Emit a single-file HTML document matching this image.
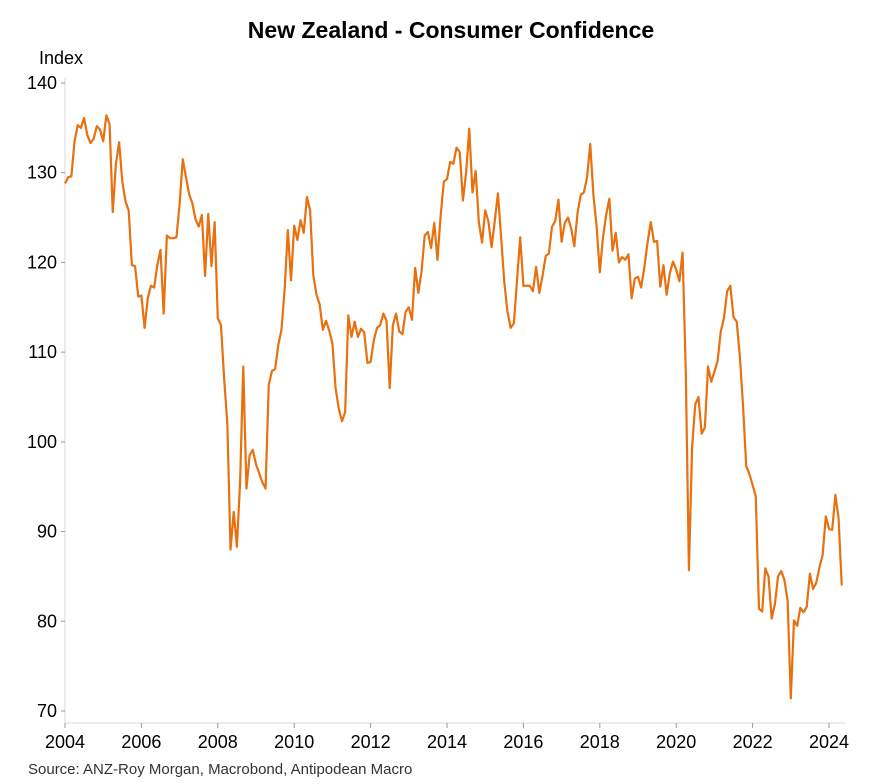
<!DOCTYPE html>
<html><head><meta charset="utf-8">
<style>
body{margin:0;background:#fff;}
svg{display:block;font-family:"Liberation Sans",Arial,sans-serif;}
</style></head>
<body>
<svg id="chart" width="871" height="784">
<text x="451" y="38" text-anchor="middle" font-size="23" font-weight="bold" fill="#000">New Zealand - Consumer Confidence</text>
<text x="39" y="64" font-size="18" fill="#000">Index</text>
<text x="28" y="774" font-size="15" fill="#333">Source: ANZ-Roy Morgan, Macrobond, Antipodean Macro</text>
<g id="axes"></g>
<path id="line" fill="none" stroke="#E8700F" stroke-width="2.2" stroke-linejoin="round"></path>
</svg>
<script>
const yTicks = [70,80,90,100,110,120,130,140];
const xTickYears = [2004,2006,2008,2010,2012,2014,2016,2018,2020,2022,2024];
const startYear = 2004;
const v2004 = [128.8,129.5,129.6,133.5,135.3,135,136.1,134.2,133.3,133.8,135.2,134.8];
const v2005 = [133.5,136.4,135.4,125.6,131,133.4,129,126.8,125.8,119.7,119.6,116.2];
const v2006 = [116.3,112.7,116,117.4,117.2,119.7,121.4,114.3,123,122.7,122.7,122.8];
const v2007 = [126.5,131.5,129.5,127.6,126.6,124.8,124,125.3,118.5,125.4,119.6,124.5];
const v2008 = [113.8,113,107,102,88,92.2,88.3,95.5,108.4,94.8,98.5,99.1];
const v2009 = [97.5,96.5,95.5,94.8,106.3,107.9,108.1,110.8,112.5,117,123.6,118];
const v2010 = [124.1,122.5,124.7,123.3,127.3,125.8,118.6,116.4,115.3,112.5,113.5,112.4];
const v2011 = [111,106,103.7,102.3,103.3,114.1,111.7,113.4,111.7,112.6,112.2,108.8];
const v2012 = [108.9,111.3,112.7,113,114.3,113.5,106,113,114.3,112.3,112,114.5];
const v2013 = [115,113.6,119.4,116.6,119,123,123.4,121.6,124.4,120.3,125.2,129];
const v2014 = [129.3,131.2,131,132.8,132.3,126.9,130,134.9,127.8,130.2,124.5,122.2];
const v2015 = [125.8,124.6,121.7,124.6,127.7,122.8,117.8,114.5,112.7,113.2,118,122.8];
const v2016 = [117.4,117.4,117.4,116.8,119.5,116.6,118.5,120.7,121,124,124.6,127];
const v2017 = [122.3,124.4,125,123.8,121.8,125.5,127.5,127.8,129.5,133.2,127.5,124];
const v2018 = [118.9,122.8,125.3,127.1,121.3,123.3,120,120.6,120.3,120.9,116,118.2];
const v2019 = [118.4,117.2,119.5,122.2,124.5,122.3,122.4,117.3,119.7,116.4,118.8,120.1];
const v2020 = [119.2,117.9,121.1,108,85.7,99.5,104.2,105,100.9,101.6,108.4,106.7];
const v2021 = [107.8,109,112.3,113.8,116.8,117.4,113.9,113.4,109.5,104,97.3,96.4];
const v2022 = [95.2,93.9,81.4,81.1,85.9,85,80.3,81.9,85,85.6,84.6,82.3];
const v2023 = [71.4,80.1,79.5,81.5,81,81.6,85.3,83.6,84.3,86,87.4,91.7];
const v2024 = [90.3,90.2,94.1,91.5,84];
const values = [].concat(v2004,v2005,v2006,v2007,v2008,v2009,v2010,v2011,v2012,v2013,v2014,v2015,v2016,v2017,v2018,v2019,v2020,v2021,v2022,v2023,v2024);

const X0=65, X1=829, Y70=711, Y140=83;
function xMonth(i){return X0 + i*(X1-X0)/240;}
function xYear(y){return X0 + (y-startYear)*(X1-X0)/20;}
function yVal(v){return Y70 - (v-70)*(Y70-Y140)/70;}
const NS="http://www.w3.org/2000/svg";
const axes=document.getElementById('axes');
function mk(tag,attrs){const e=document.createElementNS(NS,tag);for(const k in attrs)e.setAttribute(k,attrs[k]);return e;}

const yl=mk('line',{x1:65,y1:yVal(140)-5,x2:65,y2:723,stroke:'#e6e6e6','stroke-width':1.5});


axes.appendChild(yl);
const xl=mk('line',{x1:65,y1:723,x2:845,y2:723,stroke:'#d9d9d9','stroke-width':1});


axes.appendChild(xl);

yTicks.forEach(t=>{
  const y=yVal(t);
  const tk=mk('line',{x1:61,y1:y,x2:65,y2:y,stroke:'#999','stroke-width':1});
  
  
  axes.appendChild(tk);
  const tx=mk('text',{x:57,y:y+6,'text-anchor':'end','font-size':18,fill:'#000'});
  tx.textContent=t;
  
  
  axes.appendChild(tx);
});
xTickYears.forEach(yr=>{
  const x=xYear(yr);
  const tk=mk('line',{x1:x,y1:723,x2:x,y2:728,stroke:'#999','stroke-width':1});
  
  
  axes.appendChild(tk);
  const tx=mk('text',{x:x,y:748,'text-anchor':'middle','font-size':18,fill:'#000'});
  tx.textContent=yr;
  
  
  axes.appendChild(tx);
});
let d='';
values.forEach((v,i)=>{d+=(i?'L':'M')+xMonth(i).toFixed(2)+','+yVal(v).toFixed(2);});
document.getElementById('line').setAttribute('d',d);
</script>
</body></html>
